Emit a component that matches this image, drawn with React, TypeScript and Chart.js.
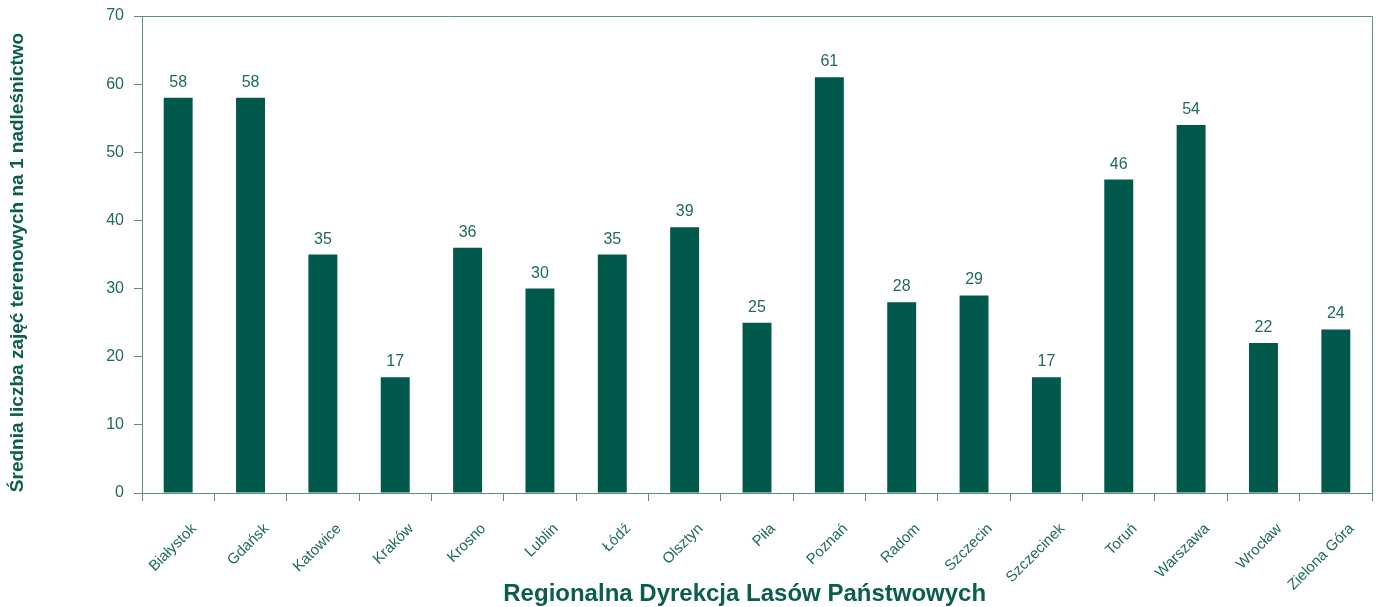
import React, { useEffect, useRef } from "react";
import { Chart, registerables } from "chart.js";

Chart.register(...registerables);

const categories = [
  "Białystok", "Gdańsk", "Katowice", "Kraków", "Krosno", "Lublin", "Łódź", "Olsztyn", "Piła",
  "Poznań", "Radom", "Szczecin", "Szczecinek", "Toruń", "Warszawa", "Wrocław", "Zielona Góra",
];
const values = [58, 58, 35, 17, 36, 30, 35, 39, 25, 61, 28, 29, 17, 46, 54, 22, 24];
const yTitle = "Średnia liczba zajęć terenowych na 1 nadleśnictwo";
const xTitle = "Regionalna Dyrekcja Lasów Państwowych";

const FONT = "'Liberation Sans', Arial, sans-serif";
const BAR = "#00594A";
const TEXT = "#1E6B5A";
const TITLE = "#0A5E4B";
const AXIS = "#5B8D80";

const valueLabels = {
  id: "valueLabels",
  afterDatasetsDraw(chart: any) {
    const ctx = chart.ctx;
    const meta = chart.getDatasetMeta(0);
    ctx.save();
    ctx.font = `16px ${FONT}`;
    ctx.fillStyle = TEXT;
    ctx.textAlign = "center";
    ctx.textBaseline = "alphabetic";
    meta.data.forEach((el: any, i: number) => {
      ctx.fillText(String(chart.data.datasets[0].data[i]), el.x, el.y - 11);
    });
    ctx.restore();
  },
};

const frameAndTitles = {
  id: "frameAndTitles",
  afterDraw(chart: any) {
    const { ctx, chartArea } = chart;
    ctx.save();
    ctx.strokeStyle = AXIS;
    ctx.lineWidth = 1;
    ctx.beginPath();
    ctx.moveTo(chartArea.left, chartArea.top + 0.5);
    ctx.lineTo(chartArea.right + 0.5, chartArea.top + 0.5);
    ctx.lineTo(chartArea.right + 0.5, chartArea.bottom);
    ctx.stroke();

    ctx.fillStyle = TITLE;
    ctx.textAlign = "center";
    ctx.textBaseline = "middle";
    ctx.font = `bold 24px ${FONT}`;
    ctx.fillText(xTitle, chartArea.left + (chartArea.right - chartArea.left) * 0.49, 594);

    ctx.translate(18, (chartArea.top + chartArea.bottom) / 2 + 8);
    ctx.rotate(-Math.PI / 2);
    ctx.font = `bold 19px ${FONT}`;
    ctx.fillText(yTitle, 0, 0);
    ctx.restore();
  },
};

export default function App() {
  const ref = useRef<HTMLCanvasElement>(null);
  useEffect(() => {
    if (!ref.current) return;
    const chart = new Chart(ref.current, {
      type: "bar",
      data: {
        labels: categories,
        datasets: [
          {
            data: values,
            backgroundColor: BAR,
            borderWidth: 0,
            barPercentage: 0.4,
            categoryPercentage: 1,
          },
        ],
      },
      options: {
        animation: false,
        responsive: false,
        maintainAspectRatio: false,
        layout: { padding: { left: 0, right: 9, top: 16, bottom: 0 } },
        plugins: { legend: { display: false }, tooltip: { enabled: false } },
        scales: {
          x: {
            offset: true,
            grid: {
              offset: true,
              drawOnChartArea: false,
              tickLength: 8,
              color: AXIS,
            },
            border: { color: AXIS },
            ticks: {
              autoSkip: false,
              minRotation: 45,
              maxRotation: 45,
              labelOffset: 16,
              padding: 19,
              color: TEXT,
              font: { family: FONT, size: 15 },
            },
            afterFit(scale: any) {
              scale.height = 114;
            },
          },
          y: {
            min: 0,
            max: 70,
            ticks: {
              stepSize: 10,
              padding: 10,
              color: TEXT,
              font: { family: FONT, size: 16 },
            },
            grid: { drawOnChartArea: false, tickLength: 8, color: AXIS },
            border: { color: AXIS },
            afterFit(scale: any) {
              scale.width = 142;
              scale.paddingTop = 0;
              scale.paddingBottom = 0;
            },
          },
        },
      },
      plugins: [valueLabels, frameAndTitles],
    } as any);
    return () => chart.destroy();
  }, []);
  return (
    <div style={{ position: "fixed", left: 0, top: 0, width: 1381, height: 607, background: "#fff" }}>
      <canvas ref={ref} width={1381} height={607} style={{ width: 1381, height: 607 }} />
    </div>
  );
}
